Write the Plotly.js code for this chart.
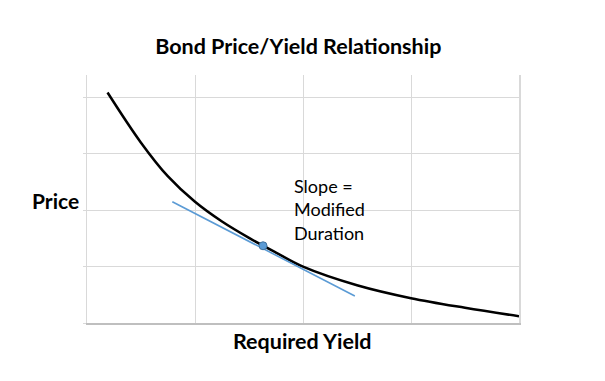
<!DOCTYPE html>
<html>
<head>
<meta charset="utf-8">
<script src="https://cdn.plot.ly/plotly-3.0.1.min.js"></script>
<style>html,body{margin:0;padding:0;background:#fff;}#chart{width:605px;height:381px;}</style>
</head>
<body>
<div id="chart"></div>
<script>
// Curve (yield on x, price on y, arbitrary units)
const yieldX = [0.19, 0.5, 0.75, 1.0, 1.25, 1.5, 1.75, 2.0, 2.5, 3.0, 3.5, 4.0];
const priceY = [4.09, 3.20, 2.60, 2.15, 1.80, 1.51, 1.25, 1.00, 0.67, 0.44, 0.27, 0.12];
// Tangent line (modified duration)
const tangentX = [0.79, 2.48];
const tangentY = [2.15, 0.48];
// Point of tangency
const pointX = [1.63];
const pointY = [1.37];

const chartTitle = 'Bond Price/Yield Relationship';
const xTitle = 'Required Yield';
const yTitle = 'Price';
const noteText = 'Slope =<br>Modified<br>Duration';

const FONT = 'Lato, "Open Sans", sans-serif';

const traces = [
  {x: yieldX, y: priceY, type: 'scatter', mode: 'lines',
   line: {color: '#000000', width: 2.5, shape: 'spline', smoothing: 1},
   hoverinfo: 'skip'},
  {x: tangentX, y: tangentY, type: 'scatter', mode: 'lines',
   line: {color: '#5B9BD5', width: 1.6}, hoverinfo: 'skip'},
  {x: pointX, y: pointY, type: 'scatter', mode: 'markers',
   marker: {color: '#5B9BD5', size: 8, line: {color: '#41719C', width: 1}},
   hoverinfo: 'skip'}
];

const layout = {
  width: 605, height: 381,
  margin: {l: 87, r: 86, t: 75, b: 58},
  paper_bgcolor: '#ffffff', plot_bgcolor: '#ffffff',
  showlegend: false,
  font: {family: FONT, color: '#000000'},
  title: {text: '<b>' + chartTitle + '</b>', font: {family: FONT, size: 21.5, color: '#000000'},
          x: 0.493, xref: 'container', xanchor: 'center',
          y: 1 - 46/381, yref: 'container', yanchor: 'middle'},
  xaxis: {range: [0, 4], dtick: 1, tick0: 0, showticklabels: false,
          showgrid: true, gridcolor: '#d9d9d9', gridwidth: 1,
          showline: true, linecolor: '#bfbfbf', linewidth: 1.5,
          zeroline: false, ticks: '', fixedrange: true},
  yaxis: {range: [0, 4.4], dtick: 1, tick0: 0, showticklabels: false,
          showgrid: true, gridcolor: '#d9d9d9', gridwidth: 1,
          showline: true, linecolor: '#d9d9d9', linewidth: 1.5, mirror: true,
          zeroline: false, ticks: 'outside', ticklen: 3, tickcolor: '#d9d9d9',
          fixedrange: true},
  annotations: [
    {text: '<b>' + yTitle + '</b>', xref: 'paper', yref: 'paper',
     x: -0.074, y: 0.492, xanchor: 'center', yanchor: 'middle', showarrow: false,
     font: {family: FONT, size: 21, color: '#000000'}},
    {text: '<b>' + xTitle + '</b>', xref: 'paper', yref: 'paper',
     x: 0.498, y: -0.073, xanchor: 'center', yanchor: 'middle', showarrow: false,
     font: {family: FONT, size: 21.5, color: '#000000'}},
    {text: noteText, xref: 'x', yref: 'y', x: 1.9, y: 2.66,
     xanchor: 'left', yanchor: 'top', align: 'left', showarrow: false,
     font: {family: FONT, size: 18, color: '#000000'}}
  ]
};

Plotly.newPlot('chart', traces, layout, {staticPlot: true, displayModeBar: false});
</script>
</body>
</html>
